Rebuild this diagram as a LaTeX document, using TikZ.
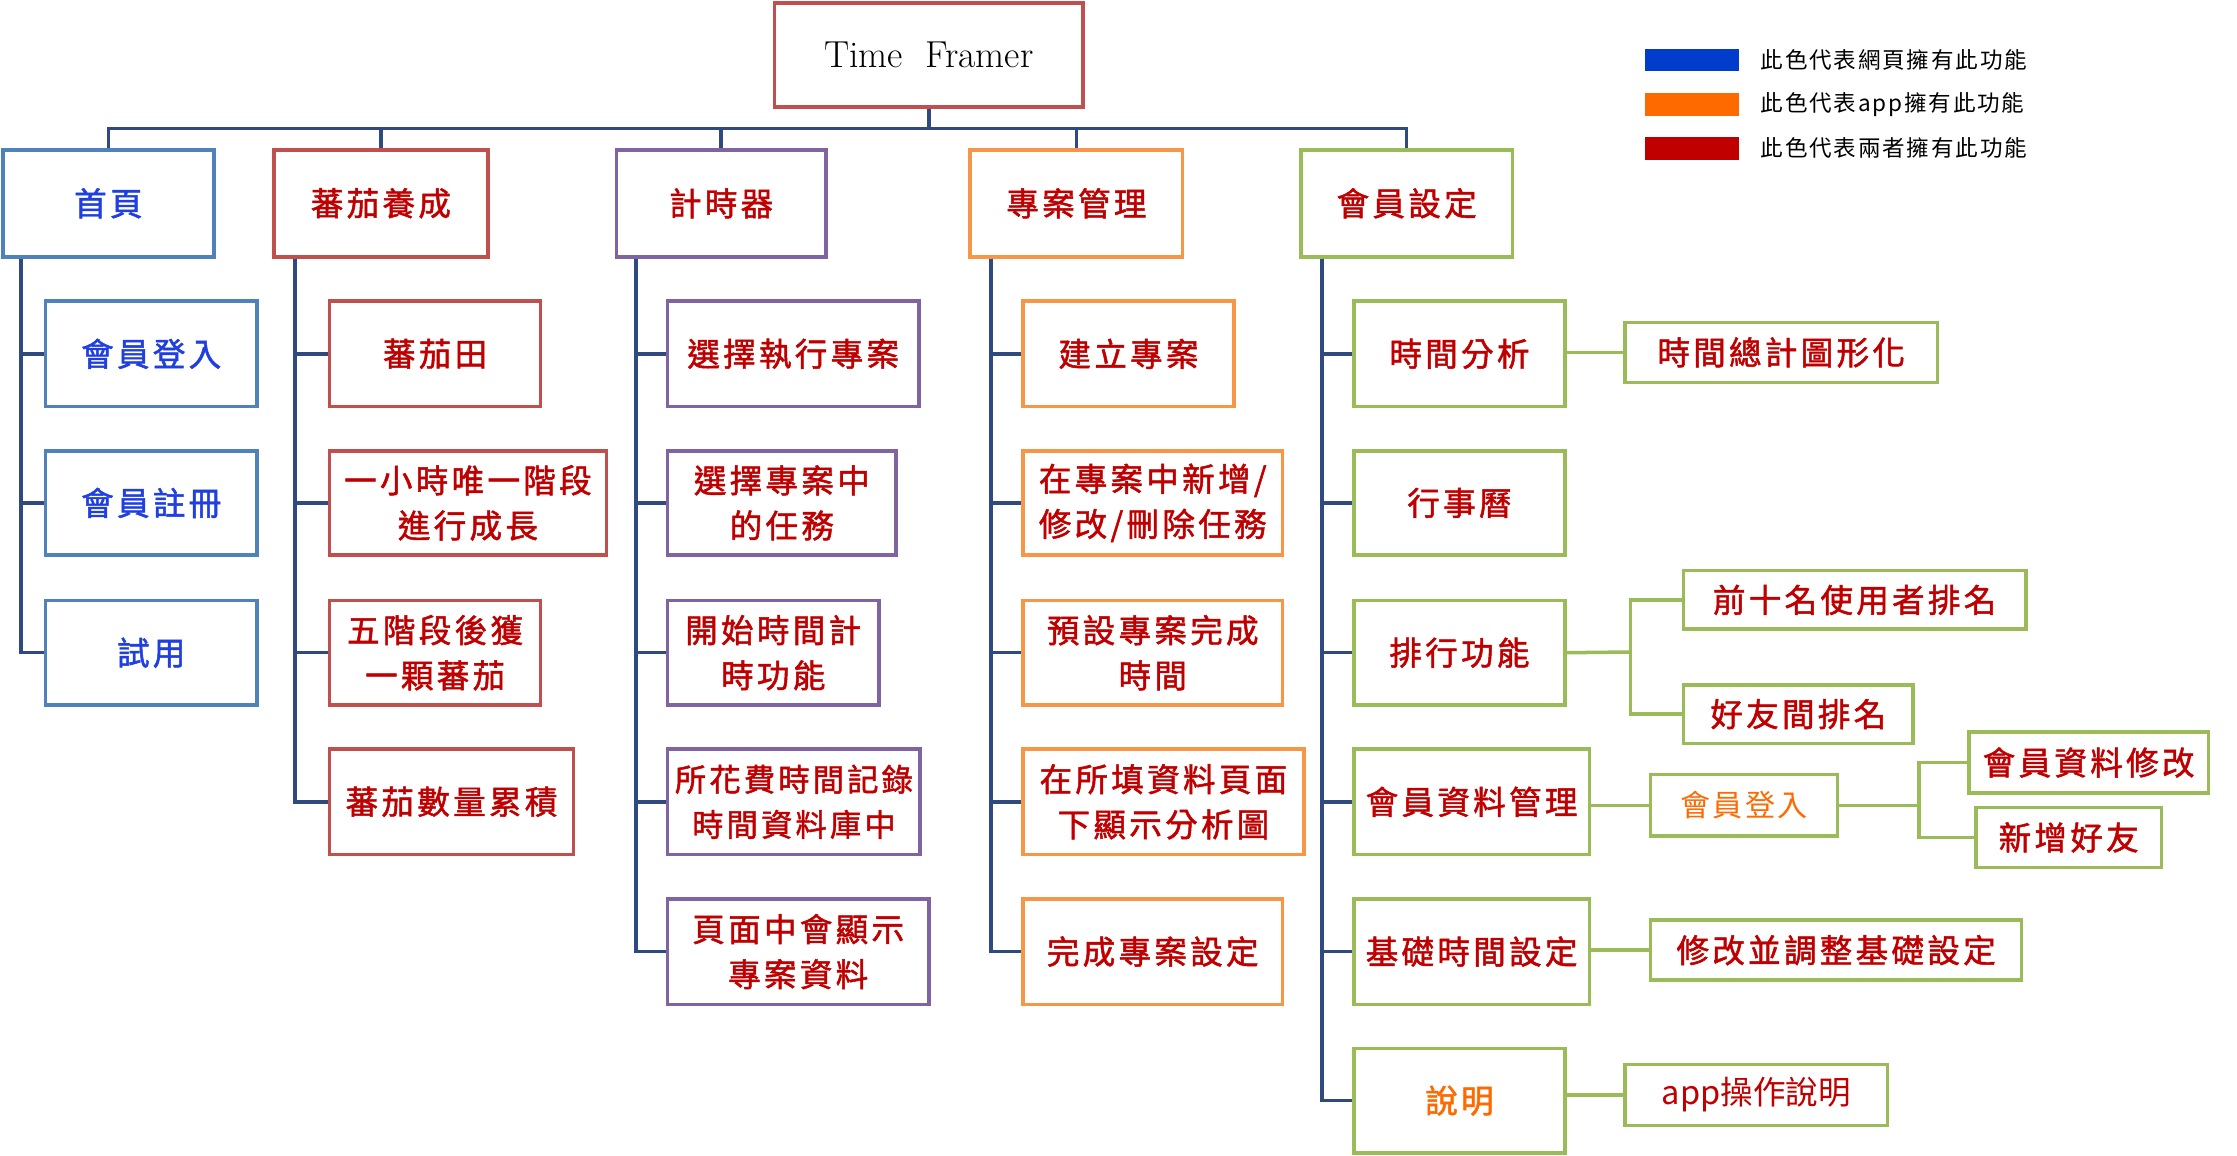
\documentclass[tikz,border=0pt]{standalone}
\usepackage{fontspec}
\newfontfamily\cjk[LetterSpace=10,FakeBold=1.5]{Noto Sans CJK TC}
\newfontfamily\cjks[LetterSpace=8]{Noto Sans CJK TC}
\definecolor{cbl}{HTML}{4F81BD}
\definecolor{crd}{HTML}{C0504D}
\definecolor{cpu}{HTML}{8064A2}
\definecolor{cog}{HTML}{F79646}
\definecolor{cgr}{HTML}{9BBB59}
\definecolor{tbl}{HTML}{1F3FE0}
\definecolor{trd}{HTML}{C00000}
\definecolor{tog}{HTML}{FF6A00}
\definecolor{cln}{HTML}{2F4A80}
\begin{document}
\begin{tikzpicture}[x=0.02cm,y=-0.02cm,
 bx/.style={draw,line width=1.4pt,fill=white,align=center,inner sep=0pt,font=\cjk\fontsize{13}{18}\selectfont},
 bl/.style={bx,draw=cbl,text=tbl},
 rd/.style={bx,draw=crd,text=trd},
 pu/.style={bx,draw=cpu,text=trd},
 og/.style={bx,draw=cog,text=trd},
 gr/.style={bx,draw=cgr,text=trd},
 ln/.style={line width=1.4pt,draw=cln},
 gl/.style={line width=1.4pt,draw=cgr}]
\useasboundingbox (0,0) rectangle (1568,809.6);
\newcommand\bxx[7]{\node[#6,minimum width={(#4-#2)*0.02cm},minimum height={(#5-#3)*0.02cm}] (#1) at ({(#2+#4)/2},{(#3+#5)/2}) {#7};}
% title
\node[draw=crd,line width=1.4pt,minimum width=4.32cm,minimum height=1.46cm,font=\fontsize{15}{18}\selectfont] (t) at (651,38.5) {Time\ \ Framer};
\coordinate (bus) at (651,90);
\bxx{a}{2}{105}{150}{180}{bl}{首頁}
\bxx{b}{192}{105}{342}{180}{rd}{蕃茄養成}
\bxx{c}{432}{105}{579}{180}{pu}{計時器}
\bxx{d}{680}{105}{829}{180}{og}{專案管理}
\bxx{e}{912}{105}{1060}{180}{gr}{會員設定}
\draw[ln] (t.south) -- (bus);
\foreach \n in {a,b,c,d,e}{\draw[ln] (bus) -| (\n.north);}
% home
\bxx{a1}{32}{211}{180}{285}{bl}{會員登入}
\bxx{a2}{32}{316}{180}{389}{bl}{會員註冊}
\bxx{a3}{32}{421}{180}{494}{bl}{試用}
\foreach \n in {a1,a2,a3}{\draw[ln] ([xshift=0.28cm]a.south west) |- (\n.west);}
% tomato
\bxx{b1}{231}{211}{379}{285}{rd}{蕃茄田}
\bxx{b2}{231}{316}{425}{389}{rd}{一小時唯一階段\\進行成長}
\bxx{b3}{231}{421}{379}{494}{rd}{五階段後獲\\一顆蕃茄}
\bxx{b4}{231}{525}{402}{599}{rd}{蕃茄數量累積}
\foreach \n in {b1,b2,b3,b4}{\draw[ln] ([xshift=0.32cm]b.south west) |- (\n.west);}
% timer
\bxx{c1}{468}{211}{644}{285}{pu}{選擇執行專案}
\bxx{c2}{468}{316}{628}{389}{pu}{選擇專案中\\的任務}
\bxx{c3}{468}{421}{616}{494}{pu}{開始時間計\\時功能}
\bxx{c4}{468}{525}{645}{599}{pu,font=\cjk\fontsize{12.5}{18}\selectfont}{所花費時間記錄\\時間資料庫中}
\bxx{c5}{468}{630}{651}{704}{pu}{頁面中會顯示\\專案資料}
\foreach \n in {c1,c2,c3,c4,c5}{\draw[ln] ([xshift=0.3cm]c.south west) |- (\n.west);}
% project
\bxx{d1}{717}{211}{865}{285}{og}{建立專案}
\bxx{d2}{717}{316}{899}{389}{og}{在專案中新增/\\修改/刪除任務}
\bxx{d3}{717}{421}{899}{494}{og}{預設專案完成\\時間}
\bxx{d4}{717}{525}{914}{599}{og}{在所填資料頁面\\下顯示分析圖}
\bxx{d5}{717}{630}{899}{704}{og}{完成專案設定}
\foreach \n in {d1,d2,d3,d4,d5}{\draw[ln] ([xshift=0.32cm]d.south west) |- (\n.west);}
% member
\bxx{e1}{949}{211}{1097}{285}{gr}{時間分析}
\bxx{e2}{949}{316}{1097}{389}{gr}{行事曆}
\bxx{e3}{949}{421}{1097}{494}{gr}{排行功能}
\bxx{e4}{949}{525}{1114}{599}{gr}{會員資料管理}
\bxx{e5}{949}{630}{1114}{704}{gr}{基礎時間設定}
\bxx{e6}{949}{735}{1097}{808}{gr,text=tog}{說明}
\foreach \n in {e1,e2,e3,e4,e5,e6}{\draw[ln] ([xshift=0.32cm]e.south west) |- (\n.west);}
\bxx{f1}{1139}{226}{1358}{268}{gr}{時間總計圖形化}
\bxx{f2}{1180}{400}{1420}{441}{gr}{前十名使用者排名}
\bxx{f3}{1180}{480}{1341}{521}{gr}{好友間排名}
\bxx{f4}{1157}{543}{1288}{586}{gr,text=tog,font=\cjks\fontsize{12}{16}\selectfont}{會員登入}
\bxx{f5}{1380}{513}{1548}{556}{gr}{會員資料修改}
\bxx{f6}{1385}{566}{1515}{608}{gr}{新增好友}
\bxx{f7}{1157}{645}{1417}{687}{gr}{修改並調整基礎設定}
\bxx{f8}{1139}{746}{1323}{789}{gr}{\fontspec{Noto Sans CJK TC}app操作說明}
\draw[gl] (f1.west) -- (f1.west -| e1.east);
\coordinate (j1) at (1143,457);
\draw[gl] (e3.east) -- (j1);
\draw[gl] (j1) |- (f2.west); \draw[gl] (j1) |- (f3.west);
\draw[gl] (f4.west) -- (f4.west -| e4.east);
\coordinate (j2) at (1345,564.5);
\draw[gl] (f4.east) -- (j2);
\draw[gl] (j2) |- (f5.west); \draw[gl] (j2) |- (f6.west);
\draw[gl] (f7.west) -- (f7.west -| e5.east);
\draw[gl] (f8.west) -- (f8.west -| e6.east);
% legend
\node[fill=blue!70!cyan!80!black,minimum width=1.32cm,minimum height=0.32cm,inner sep=0] (l1) at (1186,42) {};
\node[fill=tog,minimum width=1.32cm,minimum height=0.32cm,inner sep=0] (l2) at (1186,73) {};
\node[fill=trd,minimum width=1.32cm,minimum height=0.32cm,inner sep=0] (l3) at (1186,104) {};
\node[anchor=west,font=\cjks\fontsize{9}{11}\selectfont] (m1) at (1228,42) {此色代表網頁擁有此功能};
\node[anchor=west,font=\cjks\fontsize{9}{11}\selectfont] (m2) at (1228,73) {此色代表app擁有此功能};
\node[anchor=west,font=\cjks\fontsize{9}{11}\selectfont] (m3) at (1228,104) {此色代表兩者擁有此功能};
\end{tikzpicture}
\end{document}
